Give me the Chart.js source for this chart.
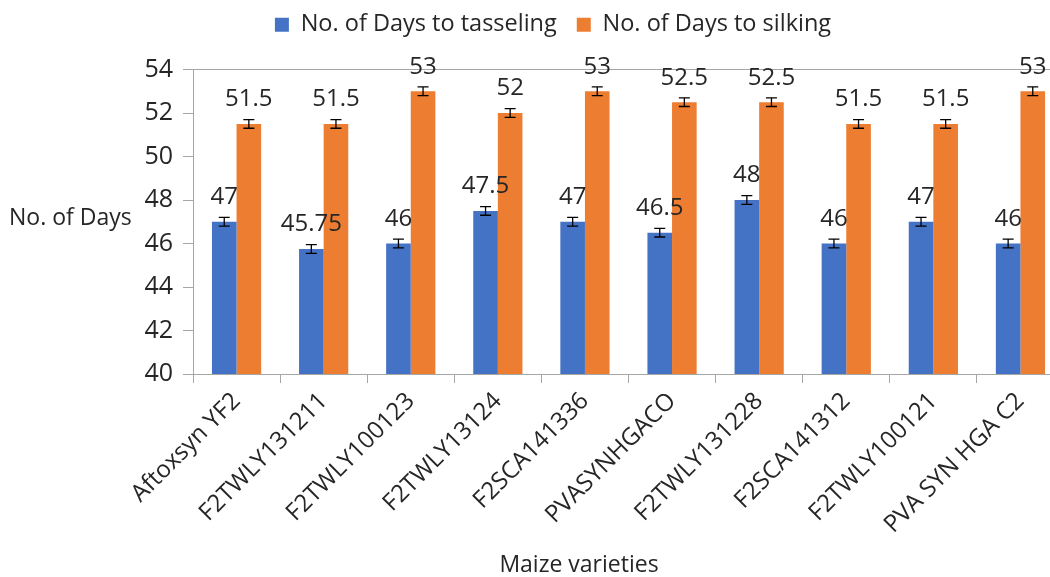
<!DOCTYPE html>
<html>
<head>
<meta charset="utf-8">
<script src="https://cdn.jsdelivr.net/npm/chart.js@4.4.1/dist/chart.umd.min.js"></script>
<style>
  html, body { margin: 0; padding: 0; background: #fff; overflow: hidden; }
  #wrap { width: 1070px; height: 577px; }
</style>
</head>
<body>
<div id="wrap"><canvas id="maizechart"></canvas></div>
<script>
var varieties = ["Aftoxsyn YF2", "F2TWLY131211", "F2TWLY100123", "F2TWLY13124", "F2SCA141336",
                 "PVASYNHGACO", "F2TWLY131228", "F2SCA141312", "F2TWLY100121", "PVA SYN HGA C2"];
var tasseling = [47, 45.75, 46, 47.5, 47, 46.5, 48, 46, 47, 46];
var silking = [51.5, 51.5, 53, 52, 53, 52.5, 52.5, 51.5, 51.5, 53];
var tasselingErr = [0.2, 0.2, 0.2, 0.2, 0.2, 0.2, 0.2, 0.2, 0.2, 0.2];
var silkingErr = [0.2, 0.2, 0.2, 0.2, 0.2, 0.2, 0.2, 0.2, 0.2, 0.2];
var yTicks = [40, 42, 44, 46, 48, 50, 52, 54];

var fontFamily = "'Open Sans', sans-serif";
var textColor = "#262626";
var axisColor = "#a6a6a6";

// error bars, value labels and the two axis titles
var errorLabelPlugin = {
  id: 'errorLabels',
  afterLayout: function(chart) {
    // move legend up a bit and to the right, like the original
    var lg = chart.legend;
    lg.top -= 23; lg.bottom -= 23;
    lg.left += 21; lg.right += 21;
  },
  afterDatasetsDraw: function(chart) {
    var ctx = chart.ctx;
    var y = chart.scales.y;
    ctx.save();
    chart.data.datasets.forEach(function(ds, i) {
      var meta = chart.getDatasetMeta(i);
      meta.data.forEach(function(bar, j) {
        var v = ds.data[j];
        var e = ds.errors[j];
        var top = y.getPixelForValue(v + e);
        var bot = y.getPixelForValue(v - e);
        ctx.strokeStyle = '#000';
        ctx.lineWidth = 1.3;
        ctx.beginPath();
        ctx.moveTo(bar.x, top); ctx.lineTo(bar.x, bot);
        ctx.moveTo(bar.x - 5.5, top); ctx.lineTo(bar.x + 5.5, top);
        ctx.moveTo(bar.x - 5.5, bot); ctx.lineTo(bar.x + 5.5, bot);
        ctx.stroke();
        ctx.fillStyle = textColor;
        ctx.font = "24px " + fontFamily;
        ctx.textAlign = 'center';
        ctx.textBaseline = 'bottom';
        ctx.fillText(String(v), bar.x, top - 8);
      });
    });
    ctx.font = "23px " + fontFamily;
    ctx.fillStyle = textColor;
    ctx.textBaseline = 'middle';
    ctx.textAlign = 'left';
    ctx.fillText("No. of Days", 9, 218);
    ctx.textAlign = 'center';
    ctx.fillText("Maize varieties", 579, 565);
    ctx.restore();
  }
};

var ctx = document.getElementById("maizechart").getContext("2d");
var maizechart = new Chart(ctx, {
  type: 'bar',
  data: {
    labels: varieties,
    datasets: [
      {
        label: "No. of Days to tasseling",
        data: tasseling,
        errors: tasselingErr,
        backgroundColor: "#4472C4",
        categoryPercentage: 0.565,
        barPercentage: 1.0
      },
      {
        label: "No. of Days to silking",
        data: silking,
        errors: silkingErr,
        backgroundColor: "#ED7D31",
        categoryPercentage: 0.565,
        barPercentage: 1.0
      }
    ]
  },
  options: {
    responsive: true,
    maintainAspectRatio: false,
    animation: false,
    layout: { padding: { left: 0, right: 6, top: 16, bottom: 0 } },
    plugins: {
      tooltip: { enabled: false },
      legend: {
        display: true,
        position: 'top',
        labels: {
          boxWidth: 14,
          boxHeight: 14,
          color: textColor,
          font: { family: fontFamily, size: 23.5 },
          padding: 20
        }
      }
    },
    scales: {
      x: {
        grid: { drawOnChartArea: false, offset: true, color: axisColor, tickLength: 9 },
        border: { color: axisColor },
        ticks: {
          color: textColor,
          font: { family: fontFamily, size: 24 },
          minRotation: 45,
          maxRotation: 45,
          padding: 4
        },
        afterFit: function(scale) { scale.height = 203; }
      },
      y: {
        min: 40,
        max: 54,
        afterBuildTicks: function(scale) {
          scale.ticks = yTicks.map(function(v) { return { value: v }; });
        },
        grid: {
          color: function(c) { return c.tick && c.tick.value === 54 ? axisColor : 'rgba(0,0,0,0)'; },
          tickColor: axisColor,
          tickLength: 10
        },
        border: { color: axisColor },
        ticks: {
          color: textColor,
          font: { family: fontFamily, size: 25 },
          padding: 10
        },
        afterFit: function(scale) { scale.width = 193; }
      }
    }
  },
  plugins: [errorLabelPlugin]
});
</script>
</body>
</html>
